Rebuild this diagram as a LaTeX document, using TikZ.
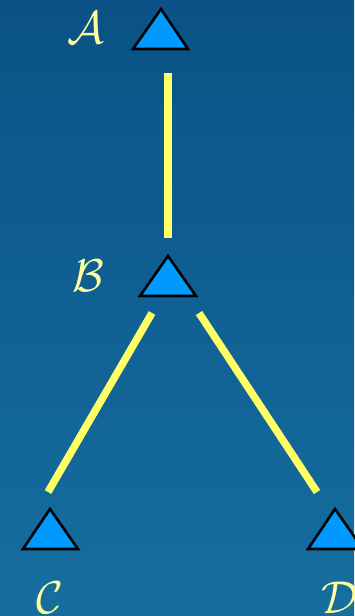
\documentclass[tikz,border=0pt]{standalone}
\usetikzlibrary{calc}
\definecolor{bgtop}{RGB}{10,82,134}
\definecolor{bgbot}{RGB}{22,110,160}
\definecolor{trifill}{RGB}{0,153,255}
\definecolor{linecol}{RGB}{255,255,102}
\definecolor{labcol}{RGB}{255,255,160}
\begin{document}
\begin{tikzpicture}[x=1pt,y=-1pt,
  tri/.style={draw=black,line width=2.6pt,fill=trifill,line join=miter},
  conn/.style={draw=linecol,line width=7.5pt,line cap=butt},
  lab/.style={text=labcol,font=\normalsize,scale=4.6,inner sep=0pt}]
\fill[top color=bgtop,bottom color=bgbot] (0,0) rectangle (354,616);
\useasboundingbox (0,0) rectangle (354,616);
% triangles
\draw[tri] (161,9) -- (188,49) -- (133,49) -- cycle;
\draw[tri] (168,256) -- (196,296) -- (140,296) -- cycle;
\draw[tri] (50,509) -- (78,549) -- (23,549) -- cycle;
\draw[tri] (335,509) -- (363,549) -- (308,549) -- cycle;
% labels
\node[lab] (lA) at (86,28) {$\mathcal{A}$};
\node[lab] (lB) at (88,276) {$\mathcal{B}$};
\node[lab] (lC) at (50,598) {$\mathcal{C}$};
\node[lab] (lD) at (340,598) {$\mathcal{D}$};
% connector ends
\coordinate (AB1) at (168,73);
\coordinate (AB2) at (168,238);
\coordinate (BC1) at (152,313);
\coordinate (BC2) at (48,492);
\coordinate (BD1) at (199,313);
\coordinate (BD2) at (317,492);
\draw[conn] (AB1) -- (AB2);
\draw[conn] (BC1) -- (BC2);
\draw[conn] (BD1) -- (BD2);
\end{tikzpicture}
\end{document}
